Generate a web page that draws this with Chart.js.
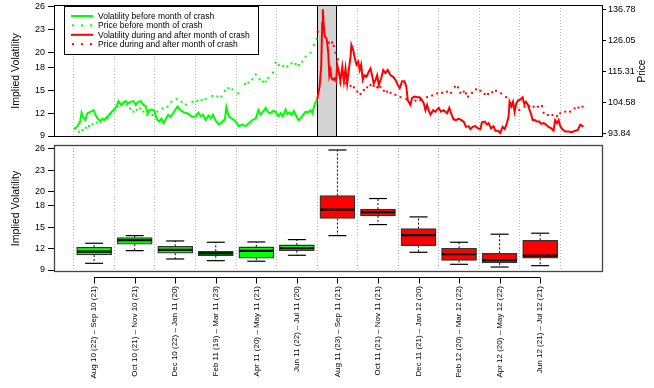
<!DOCTYPE html>
<html>
<head>
<meta charset="utf-8">
<script src="https://cdn.jsdelivr.net/npm/chart.js@4.4.0/dist/chart.umd.min.js"></script>
<style>
  body { margin: 0; background: #fff; }
  #wrap { position: relative; width: 654px; height: 388px; }
  canvas { position: absolute; left: 0; }
</style>
</head>
<body>
<div id="wrap">
  <canvas id="topChart" width="654" height="141" style="top:0"></canvas>
  <canvas id="boxChart" width="654" height="247" style="top:141px"></canvas>
</div>
<script>
// x values are months since 1 Aug 2010
const volBefore = [
  [0.01,9.9],[0.15,10.2],[0.31,10.9],[0.38,12.1],[0.46,11.5],[0.56,11.1],[0.67,12.0],[0.84,12.2],[0.97,12.4],[1.05,11.9],
  [1.17,11.3],[1.30,11.0],[1.41,11.3],[1.49,11.1],[1.63,11.5],[1.74,11.8],[1.87,12.2],[1.99,12.5],[2.10,12.9],[2.20,13.6],
  [2.32,13.1],[2.45,13.4],[2.56,13.6],[2.67,13.3],[2.81,13.5],[2.94,13.6],[3.05,13.1],[3.17,13.5],[3.30,13.6],[3.43,13.1],
  [3.55,12.9],[3.63,12.0],[3.71,12.4],[3.83,12.5],[3.96,12.4],[4.09,11.2],[4.20,10.9],[4.32,11.3],[4.42,10.7],[4.53,11.2],
  [4.65,11.8],[4.78,11.5],[4.94,12.2],[5.11,12.9],[5.27,12.4],[5.43,12.1],[5.60,12.0],[5.85,11.5],[6.01,11.6],[6.14,12.1],
  [6.26,11.6],[6.37,11.8],[6.50,11.1],[6.64,11.7],[6.75,11.3],[6.86,11.8],[7.00,11.0],[7.16,10.5],[7.33,10.9],[7.45,11.2],
  [7.52,12.8],[7.62,11.7],[7.73,11.4],[7.90,11.1],[8.01,10.8],[8.14,10.3],[8.31,10.5],[8.47,10.3],[8.64,10.7],[8.80,11.1],
  [8.97,11.3],[9.10,12.4],[9.21,11.8],[9.33,12.2],[9.46,12.7],[9.59,12.1],[9.70,12.0],[9.82,12.3],[9.95,12.2],[10.08,11.6],
  [10.20,12.0],[10.31,11.6],[10.44,12.5],[10.53,11.9],[10.64,12.1],[10.74,11.8],[10.85,12.3],[10.94,11.8],[11.07,11.1],[11.18,11.3],
  [11.30,11.8],[11.43,12.2],[11.56,12.1],[11.67,12.4],[11.76,12.0],[11.89,13.3],[12.00,13.8]
];
const volAfter = [
  [12.00,13.8],[12.12,15.5],[12.20,18.1],[12.25,23.9],[12.28,25.7],[12.33,23.4],[12.38,22.1],[12.45,21.9],[12.50,21.2],[12.55,19.9],
  [12.60,17.0],[12.66,17.7],[12.71,16.6],[12.79,16.4],[12.86,16.6],[12.94,16.2],[12.99,18.4],[13.07,17.5],[13.15,16.2],[13.24,18.1],
  [13.32,16.2],[13.40,17.9],[13.48,15.9],[13.58,18.1],[13.65,19.5],[13.69,21.0],[13.78,20.3],[13.86,19.2],[13.94,18.4],[14.02,18.8],
  [14.10,17.7],[14.17,18.4],[14.25,16.4],[14.33,17.0],[14.43,16.8],[14.55,17.5],[14.63,17.9],[14.71,17.0],[14.79,15.9],[14.88,16.4],
  [14.96,17.0],[15.04,15.7],[15.16,16.6],[15.26,17.7],[15.37,17.3],[15.48,17.7],[15.62,17.0],[15.75,16.8],[15.86,16.4],[15.98,15.7],
  [16.07,15.3],[16.19,16.2],[16.31,16.2],[16.40,15.5],[16.47,13.7],[16.60,13.1],[16.68,14.0],[16.79,14.2],[16.93,14.1],[17.06,14.1],
  [17.18,13.7],[17.26,13.3],[17.34,12.4],[17.42,13.1],[17.50,12.4],[17.59,11.8],[17.72,12.4],[17.83,12.2],[18.00,12.7],[18.11,12.2],
  [18.24,12.4],[18.41,12.0],[18.52,12.7],[18.62,11.9],[18.73,11.2],[18.85,11.1],[18.98,11.3],[19.11,11.1],[19.23,10.9],[19.34,10.2],
  [19.47,10.3],[19.56,9.9],[19.67,10.2],[19.80,10.3],[19.94,10.0],[20.05,9.9],[20.13,10.8],[20.26,10.9],[20.38,10.5],[20.46,10.7],
  [20.58,10.0],[20.70,10.3],[20.79,9.7],[20.92,9.7],[21.03,9.4],[21.15,10.2],[21.25,9.9],[21.36,10.7],[21.44,11.5],[21.49,13.5],
  [21.58,12.9],[21.66,13.5],[21.74,12.2],[21.82,13.3],[21.91,13.7],[22.02,13.8],[22.13,14.1],[22.22,13.2],[22.30,13.5],[22.40,13.1],
  [22.48,12.4],[22.56,11.8],[22.63,11.1],[22.73,11.1],[22.84,10.9],[22.96,10.9],[23.05,10.6],[23.17,10.7],[23.29,10.5],[23.41,10.2],
  [23.55,10.0],[23.66,9.7],[23.74,11.1],[23.83,10.7],[23.91,11.1],[23.99,10.3],[24.10,9.9],[24.24,9.6],[24.40,9.6],[24.57,9.5],
  [24.73,9.7],[24.86,9.8],[24.98,10.5],[25.09,10.3],[25.14,10.3]
];
const priceBefore = [
  [0.06,95.8],[0.26,94.6],[0.43,95.2],[0.59,96.0],[0.75,96.6],[0.92,97.2],[1.13,97.8],[1.33,98.1],[1.49,98.7],[1.66,99.3],
  [1.82,101.0],[1.99,102.2],[2.15,103.3],[2.40,104.1],[2.61,103.9],[2.77,102.7],[2.94,101.6],[3.10,102.2],[3.27,102.7],[3.43,101.6],
  [3.63,100.4],[3.88,100.4],[4.12,101.6],[4.37,102.7],[4.62,103.3],[4.81,105.0],[5.07,105.9],[5.31,105.0],[5.52,104.0],[5.85,105.0],
  [6.09,105.3],[6.30,105.6],[6.50,106.0],[6.83,107.0],[7.08,106.8],[7.28,106.8],[7.45,108.8],[7.62,109.7],[7.82,109.3],[8.11,107.9],
  [8.44,111.2],[8.61,111.6],[8.80,112.8],[8.97,114.5],[9.16,112.8],[9.33,112.0],[9.46,112.0],[9.59,113.3],[9.82,115.1],[9.95,118.5],
  [10.11,117.7],[10.33,117.4],[10.53,117.2],[10.74,118.3],[10.94,118.1],[11.10,117.7],[11.27,118.9],[11.43,120.6],[11.67,122.0],[11.84,124.7],
  [11.97,126.8]
];
const priceAfter = [
  [12.03,129.3],[12.33,129.9],[12.58,125.5],[12.74,125.5],[12.82,124.3],[12.91,122.0],[13.02,119.7],[13.15,111.4],[13.40,111.4],[13.65,110.5],
  [13.81,110.0],[13.98,108.5],[14.14,107.7],[14.30,109.1],[14.47,110.0],[14.63,110.8],[14.79,110.5],[14.96,110.0],[15.12,110.2],[15.29,108.8],
  [15.45,108.5],[15.62,108.1],[15.86,107.4],[16.11,106.6],[16.40,105.9],[16.60,104.5],[16.85,105.4],[17.09,105.6],[17.42,106.6],[17.67,107.2],
  [17.92,107.9],[18.16,108.1],[18.41,108.5],[18.61,108.1],[18.79,110.2],[18.95,110.0],[19.06,108.1],[19.23,108.5],[19.34,107.9],[19.44,106.8],
  [19.64,108.1],[19.84,109.3],[20.05,108.8],[20.26,107.7],[20.43,107.7],[20.63,108.3],[20.82,108.8],[21.08,107.9],[21.32,106.6],[21.53,104.7],
  [21.77,103.3],[21.97,102.2],[22.23,103.3],[22.46,103.5],[22.68,103.3],[22.89,103.3],[23.09,103.5],[23.17,101.2],[23.38,100.4],[23.61,100.4],
  [23.83,100.1],[23.99,101.0],[24.24,101.6],[24.48,101.6],[24.70,102.7],[24.89,103.0],[25.09,103.3]
];
const crashMonth = [12, 12.95];

const periodLabels = [
  'Aug 10 (22) \u2013 Sep 10 (21)', 'Oct 10 (21) \u2013 Nov 10 (21)', 'Dec 10 (22) \u2013 Jan 11 (20)',
  'Feb 11 (19) \u2013 Mar 11 (23)', 'Apr 11 (20) \u2013 May 11 (21)', 'Jun 11 (22) \u2013 Jul 11 (20)',
  'Aug 11 (23) \u2013 Sep 11 (21)', 'Oct 11 (21) \u2013 Nov 11 (21)', 'Dec 11 (21) \u2013 Jan 12 (20)',
  'Feb 12 (20) \u2013 Mar 12 (22)', 'Apr 12 (20) \u2013 May 12 (22)', 'Jun 12 (21) \u2013 Jul 12 (21)'
];
const periodMid = [1, 3, 5, 7, 9, 11, 13, 15, 17, 19, 21, 23];
const boxMin = [9.94, 11.72, 10.55, 10.31, 10.23, 11.07, 13.83, 15.38, 11.49, 9.80, 9.42, 9.61];
const boxQ1  = [11.11, 12.62, 11.35, 11.01, 10.65, 11.72, 16.23, 16.61, 12.42, 10.36, 9.99, 10.65];
const boxMed = [11.58, 13.18, 11.82, 11.35, 11.68, 12.06, 17.49, 17.13, 13.89, 11.21, 10.37, 11.01];
const boxQ3  = [12.20, 13.55, 12.33, 11.63, 12.24, 12.52, 19.46, 17.55, 14.82, 12.06, 11.35, 13.18];
const boxMax = [12.76, 13.83, 13.08, 12.90, 12.94, 13.27, 25.86, 19.04, 16.46, 12.90, 14.03, 14.17];
const crashFlag = [0, 0, 0, 0, 0, 0, 1, 1, 1, 1, 1, 1];

const volTicks = [9, 12, 15, 18, 20, 23, 26];
const priceTicks = [93.84, 104.58, 115.31, 126.05, 136.78];
const gridMonths = [0, 2, 4, 6, 8, 10, 12, 14, 16, 18, 20, 22, 24];

const GREEN = '#00ff00', RED = '#ff0000';
Chart.defaults.font.family = '"Liberation Sans", Arial, Helvetica, sans-serif';
Chart.defaults.color = '#000';
Chart.defaults.animation = false;

const toXY = arr => arr.map(p => ({ x: p[0], y: p[1] }));
const setTicks = vals => scale => { scale.ticks = vals.map(v => ({ value: v })); };
// fixed axis size, no extra room for half labels
const fixWidth = w => s => { s.width = w; s.paddingTop = 0; s.paddingBottom = 0; };
const fixHeight = h => s => { s.height = h; s.paddingLeft = 0; s.paddingRight = 0; };

// ---------- top panel ----------
const topPlugin = {
  id: 'topPlugin',
  beforeDatasetsDraw(chart) {
    const { ctx, chartArea: a, scales: { x } } = chart;
    const x1 = x.getPixelForValue(crashMonth[0]);
    const x2 = x.getPixelForValue(crashMonth[1]);
    ctx.save();
    ctx.fillStyle = '#d3d3d3';
    ctx.fillRect(x1, a.top, x2 - x1, a.bottom - a.top);
    ctx.strokeStyle = '#000';
    ctx.lineWidth = 1;
    ctx.beginPath();
    ctx.moveTo(Math.round(x1) + 0.5, a.top); ctx.lineTo(Math.round(x1) + 0.5, a.bottom);
    ctx.moveTo(Math.round(x2) + 0.5, a.top); ctx.lineTo(Math.round(x2) + 0.5, a.bottom);
    ctx.stroke();
    ctx.restore();
  },
  afterDraw(chart) {
    const { ctx, chartArea: a } = chart;
    ctx.save();
    ctx.strokeStyle = '#000';
    ctx.lineWidth = 1;
    ctx.strokeRect(a.left + 0.5, a.top + 0.5, a.width - 1, a.height - 1);

    // legend
    const lx = 64, ly = 6, lw = 194, lh = 48;
    ctx.fillStyle = '#fff';
    ctx.fillRect(lx, ly, lw, lh);
    ctx.strokeRect(lx + 0.5, ly + 0.5, lw, lh);
    ctx.font = '8.5px "Liberation Sans", Arial, sans-serif';
    ctx.textBaseline = 'middle';
    chart.data.datasets.forEach((ds, i) => {
      const y = 16 + i * 9.4;
      if (ds.showLine === false) {
        ctx.fillStyle = ds.pointBackgroundColor;
        [73, 82, 91].forEach(px => ctx.fillRect(px - 1, y - 1, 2, 2));
      } else {
        ctx.strokeStyle = ds.borderColor;
        ctx.lineWidth = 2;
        ctx.beginPath(); ctx.moveTo(71, y); ctx.lineTo(93, y); ctx.stroke();
      }
      ctx.fillStyle = '#000';
      ctx.fillText(ds.label, 98, y + 0.5);
    });

    // right axis title, reading upward
    ctx.translate(642, (a.top + a.bottom) / 2);
    ctx.rotate(-Math.PI / 2);
    ctx.textAlign = 'center';
    ctx.font = '10px "Liberation Sans", Arial, sans-serif';
    ctx.fillText('Price', 0, 0);
    ctx.restore();
  }
};

new Chart(document.getElementById('topChart'), {
  type: 'line',
  data: {
    datasets: [
      { label: 'Volatility before month of crash', data: toXY(volBefore), borderColor: GREEN, borderWidth: 2,
        pointRadius: 0, yAxisID: 'y' },
      { label: 'Price before month of crash', data: toXY(priceBefore), showLine: false, pointStyle: 'rect',
        pointRadius: 1.4, pointBorderWidth: 0, pointBackgroundColor: GREEN, yAxisID: 'y2' },
      { label: 'Volatility during and after month of crash', data: toXY(volAfter), borderColor: RED, borderWidth: 2,
        pointRadius: 0, yAxisID: 'y' },
      { label: 'Price during and after month of crash', data: toXY(priceAfter), showLine: false, pointStyle: 'rect',
        pointRadius: 1.4, pointBorderWidth: 0, pointBackgroundColor: RED, yAxisID: 'y2' }
    ]
  },
  options: {
    responsive: false,
    layout: { autoPadding: false, padding: { top: 5, left: 0, right: 0, bottom: 0 } },
    plugins: { legend: { display: false }, tooltip: { enabled: false } },
    scales: {
      x: {
        type: 'linear', min: -0.98, max: 26.1,
        afterBuildTicks: setTicks(gridMonths),
        afterFit: fixHeight(4),
        ticks: { display: false },
        grid: { color: '#b8b8b8', drawTicks: false },
        border: { display: false, dash: [1, 2] }
      },
      y: {
        position: 'left', min: 8.87, max: 26.26,
        afterBuildTicks: setTicks(volTicks),
        afterFit: fixWidth(54),
        ticks: { font: { size: 9 }, padding: 3 },
        grid: { drawOnChartArea: false, tickLength: 6, color: '#000' },
        border: { display: false },
        title: { display: true, text: 'Implied Volatility', font: { size: 10.5 }, padding: { top: 10 } }
      },
      y2: {
        position: 'right', min: 92.80, max: 138.51,
        afterBuildTicks: setTicks(priceTicks),
        afterFit: fixWidth(51),
        ticks: { font: { size: 9 }, padding: 2, callback: v => v.toFixed(2) },
        grid: { drawOnChartArea: false, tickLength: 3, color: '#000' },
        border: { display: false }
      }
    }
  },
  plugins: [topPlugin]
});

// ---------- bottom panel (box plots) ----------
const boxPlugin = {
  id: 'boxPlugin',
  afterDraw(chart) {
    const { ctx, chartArea: a, scales: { x } } = chart;
    ctx.save();
    ctx.strokeStyle = '#444';
    ctx.lineWidth = 1.3;
    ctx.strokeRect(a.left + 0.5, a.top + 0.5, a.width - 1, a.height - 1);
    // R style axis line with ticks under the panel
    const xs = x.ticks.map(t => x.getPixelForValue(t.value));
    const y0 = a.bottom + 5.5;
    ctx.strokeStyle = '#000';
    ctx.lineWidth = 1;
    ctx.beginPath();
    ctx.moveTo(xs[0], y0); ctx.lineTo(xs[xs.length - 1], y0);
    xs.forEach(px => { ctx.moveTo(Math.round(px) + 0.5, y0); ctx.lineTo(Math.round(px) + 0.5, y0 + 6); });
    ctx.stroke();
    ctx.restore();
  }
};

const whiskerPts = [];
const capPts = [];
periodMid.forEach((m, i) => {
  whiskerPts.push({ x: m, y: boxQ3[i] }, { x: m, y: boxMax[i] }, { x: m, y: null },
                  { x: m, y: boxQ1[i] }, { x: m, y: boxMin[i] }, { x: m, y: null });
  capPts.push({ x: m, y: boxMax[i] }, { x: m, y: boxMin[i] });
});

new Chart(document.getElementById('boxChart'), {
  type: 'bar',
  data: {
    datasets: [
      { type: 'scatter', order: 0, data: periodMid.map((m, i) => ({ x: m, y: boxMed[i] })), pointStyle: 'line',
        pointRadius: 17, pointBorderWidth: 2.2, pointBorderColor: '#000' },
      { order: 1, data: periodMid.map((m, i) => ({ x: m, y: [boxQ1[i], boxQ3[i]] })),
        backgroundColor: crashFlag.map(c => c ? RED : GREEN),
        borderColor: '#333', borderWidth: 1.3, borderSkipped: false, barThickness: 35 },
      { type: 'line', order: 2, data: whiskerPts, borderColor: '#000', borderWidth: 1, borderDash: [2, 2],
        pointRadius: 0, spanGaps: false },
      { type: 'scatter', order: 2, data: capPts, pointStyle: 'line', pointRadius: 9, pointBorderWidth: 1.2,
        pointBorderColor: '#000' }
    ]
  },
  options: {
    responsive: false,
    layout: { autoPadding: false, padding: { top: 4, left: 0, right: 51, bottom: 0 } },
    plugins: { legend: { display: false }, tooltip: { enabled: false } },
    scales: {
      x: {
        type: 'linear', min: -0.98, max: 26.1, offset: false,
        afterBuildTicks: setTicks(periodMid),
        afterFit: fixHeight(116),
        ticks: {
          autoSkip: false, minRotation: 90, maxRotation: 90, padding: 14, font: { size: 8 },
          callback: v => periodLabels[periodMid.indexOf(v)]
        },
        grid: { offset: true, color: '#b8b8b8', drawTicks: false },
        border: { display: false, dash: [1, 2] }
      },
      y: {
        position: 'left', min: 8.72, max: 26.56,
        afterBuildTicks: setTicks(volTicks),
        afterFit: fixWidth(54),
        ticks: { font: { size: 9 }, padding: 3 },
        grid: { drawOnChartArea: false, tickLength: 6, color: '#000' },
        border: { display: false },
        title: { display: true, text: 'Implied Volatility', font: { size: 10.5 }, padding: { top: 10 } }
      }
    }
  },
  plugins: [boxPlugin]
});
</script>
</body>
</html>
